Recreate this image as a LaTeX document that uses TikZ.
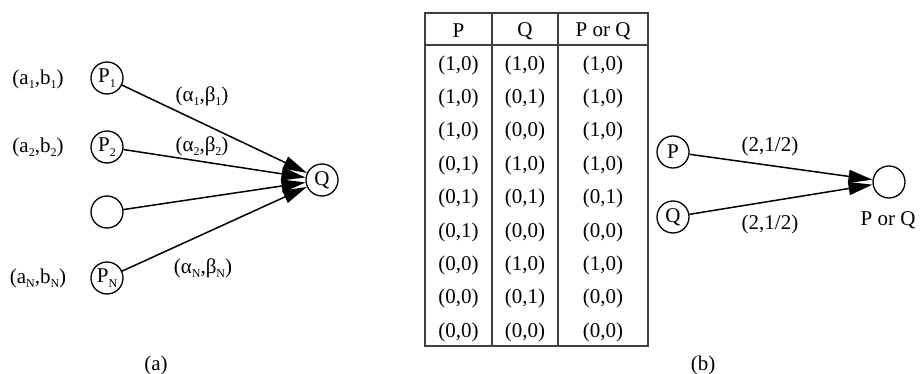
\documentclass[tikz,border=0pt]{standalone}
\usepackage{fontspec}
\setmainfont{Liberation Serif}
\usetikzlibrary{arrows.meta}
\newcommand{\lowsub}[1]{\raisebox{-0.45ex}{\fontsize{12}{12}\selectfont #1}}
\begin{document}
\begin{tikzpicture}[x=1pt,y=-1pt,
  every node/.style={font=\fontsize{21}{23}\selectfont, inner sep=0pt},
  unit/.style={draw, circle, line width=1.3pt, minimum size=32pt},
  link/.style={line width=1.5pt, -{Triangle[length=24pt,width=13pt]}},
  rule/.style={line width=1.1pt, draw=black!75}]
\useasboundingbox (0,0) rectangle (921,374);

% ---- (a) general unit with N inputs ----
\node[unit] (p1) at (107,78) {P\lowsub{1}};
\node[unit] (p2) at (107,147) {P\lowsub{2}};
\node[unit] (p3) at (107,212) {};
\node[unit] (pn) at (107,278) {P\lowsub{N}};
\node[unit] (q) at (322,180) {Q};

\node (w1) at (38,79) {(a\lowsub{1},b\lowsub{1})};
\node (w2) at (38,147) {(a\lowsub{2},b\lowsub{2})};
\node (wn) at (38,278) {(a\lowsub{N},b\lowsub{N})};

\draw[link] (p1) -- (q);
\draw[link] (p2) -- (q);
\draw[link] (p3) -- (q);
\draw[link] (pn) -- (q);

\node (l1) at (202,96) {(α\lowsub{1},β\lowsub{1})};
\node (l2) at (202,146) {(α\lowsub{2},β\lowsub{2})};
\node (ln) at (203,268) {(α\lowsub{N},β\lowsub{N})};

\node (capa) at (156,365) {(a)};

% ---- (b) truth table for P or Q ----
\draw[rule] (425,13) rectangle (648,346);
\draw[rule] (425,45) -- (648,45);
\draw[rule] (492,13) -- (492,346);
\draw[rule] (558,13) -- (558,346);

\node (hp) at (458.5,31) {P};
\node (hq) at (525,31) {Q};
\node (hr) at (603,31) {P or Q};

\foreach \pa/\pb/\qa/\qb/\ra/\rb [count=\i] in {
  1/0/1/0/1/0, 1/0/0/1/1/0, 1/0/0/0/1/0,
  0/1/1/0/1/0, 0/1/0/1/0/1, 0/1/0/0/0/0,
  0/0/1/0/1/0, 0/0/0/1/0/0, 0/0/0/0/0/0} {
  \node (ta\i) at (458.5,{31.6+33.4*\i}) {(\pa,\pb)};
  \node (tb\i) at (525,{31.6+33.4*\i}) {(\qa,\qb)};
  \node (tc\i) at (603,{31.6+33.4*\i}) {(\ra,\rb)};
}

% ---- (b) the OR unit ----
\node[unit] (bp) at (673,152) {P};
\node[unit] (bq) at (673,217) {Q};
\node[unit] (bo) at (889,182) {};
\node (bol) at (888,220) {P or Q};

\draw[link] (bp) -- (bo);
\draw[link] (bq) -- (bo);

\node (bw1) at (770,146) {(2,1/2)};
\node (bw2) at (770,224) {(2,1/2)};

\node (capb) at (703,365) {(b)};
\end{tikzpicture}
\end{document}
